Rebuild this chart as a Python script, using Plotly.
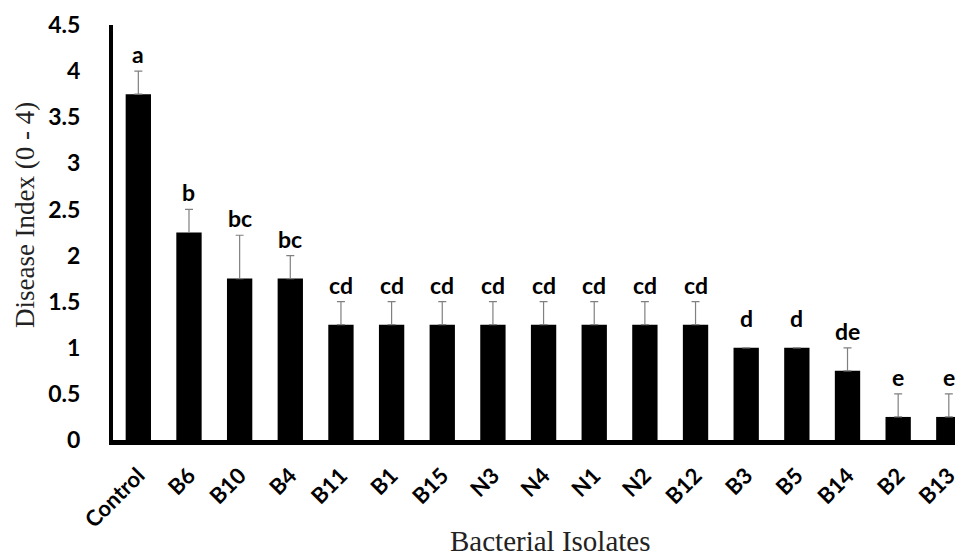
import plotly.graph_objects as go

isolates = ["Control", "B6", "B10", "B4", "B11", "B1", "B15", "N3", "N4",
            "N1", "N2", "B12", "B3", "B5", "B14", "B2", "B13"]
disease_index = [3.75, 2.25, 1.75, 1.75, 1.25, 1.25, 1.25, 1.25, 1.25,
                 1.25, 1.25, 1.25, 1.0, 1.0, 0.75, 0.25, 0.25]
std_error = [0.25, 0.25, 0.47, 0.25, 0.25, 0.25, 0.25, 0.25, 0.25,
             0.25, 0.25, 0.25, 0.0, 0.0, 0.25, 0.25, 0.25]
letters = ["a", "b", "bc", "bc", "cd", "cd", "cd", "cd", "cd",
           "cd", "cd", "cd", "d", "d", "de", "e", "e"]
y_ticks = [0, 0.5, 1, 1.5, 2, 2.5, 3, 3.5, 4, 4.5]
x_title = "Bacterial Isolates"
y_title = "Disease Index (0 - 4)"

BOLD = "Lato, 'Open Sans', 'DejaVu Sans', sans-serif"
SERIF = "'Liberation Serif', 'Times New Roman', serif"

fig = go.Figure()
fig.add_trace(go.Bar(
    x=isolates, y=disease_index,
    marker=dict(color="black", line=dict(width=0)),
    width=0.5,
    error_y=dict(type="data", array=std_error, arrayminus=[0] * len(std_error),
                 symmetric=False, color="#808080", thickness=1.2, width=4),
    cliponaxis=False,
))

for name, v, e, lab in zip(isolates, disease_index, std_error, letters):
    fig.add_annotation(x=name, y=v + e, text=lab, showarrow=False,
                       yanchor="bottom", yshift=1 if e > 0 else 14,
                       font=dict(family=BOLD, size=23, color="black", weight="bold"))

fig.add_annotation(xref="paper", yref="paper", x=0.515, y=-0.243,
                   xanchor="center", yanchor="middle", showarrow=False,
                   text=x_title, font=dict(family=SERIF, size=29, color="#222"))
fig.add_annotation(xref="paper", yref="paper", x=-0.1035, y=0.542,
                   xanchor="center", yanchor="middle", showarrow=False, textangle=-90,
                   text=y_title, font=dict(family=SERIF, size=27, color="#222"))

fig.update_layout(
    width=955, height=551,
    margin=dict(l=105, r=0, t=17, b=119),
    paper_bgcolor="white", plot_bgcolor="white",
    showlegend=False, bargap=0.5,
)
fig.update_xaxes(
    range=[-0.5, 16.28],
    showline=True, linecolor="black", linewidth=5,
    ticks="", tickangle=-45, showgrid=False, zeroline=False,
    tickfont=dict(family=BOLD, size=22, color="black", weight="bold"),
    ticklabelstandoff=9,
)
fig.update_yaxes(
    range=[0, 4.5], tickvals=y_ticks, ticktext=[f"{t:g}" for t in y_ticks],
    showline=True, linecolor="black", linewidth=4,
    ticks="", showgrid=False, zeroline=False,
    tickfont=dict(family=BOLD, size=23, color="black", weight="bold"),
    ticklabelstandoff=24,
)

fig.write_html("out.html")
